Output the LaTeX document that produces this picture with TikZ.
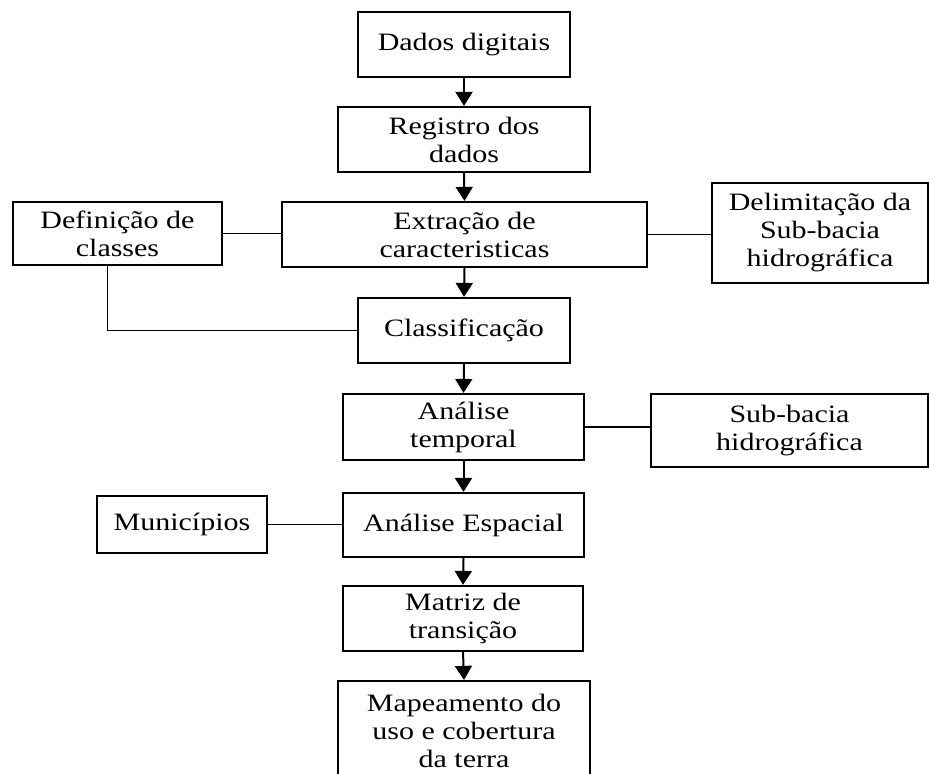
\documentclass[tikz,border=0pt]{standalone}
\usepackage{fontspec}
\setmainfont{Liberation Serif}[FakeStretch=1.2]
\usetikzlibrary{arrows.meta}
\begin{document}
\begin{tikzpicture}[x=1pt,y=-1pt,
  box/.style={draw=black,line width=2.2pt,inner sep=0pt,align=center,
    font=\fontsize{25}{28}\selectfont,text=black},
  link/.style={line width=1.7pt},
  flow/.style={line width=2pt,-{Triangle[width=17pt,length=14pt]}}]
\useasboundingbox (0,0) rectangle (930,774);
\node[box,minimum width=212pt,minimum height=65pt] (dados) at (464,44.5) {Dados digitais};
\node[box,minimum width=252pt,minimum height=65pt] (reg) at (464,139.5) {Registro dos\\dados};
\node[box,minimum width=365pt,minimum height=65pt] (ext) at (464.5,234.5) {Extração de\\caracteristicas};
\node[box,minimum width=209pt,minimum height=63pt] (def) at (117.5,233.5) {Definição de\\classes};
\node[box,minimum width=216pt,minimum height=100pt] (del) at (820,233) {Delimitação da\\Sub-bacia\\hidrográfica};
\node[box,minimum width=212pt,minimum height=65pt] (cls) at (464,330.5) {Classificação};
\node[box,minimum width=241pt,minimum height=66pt] (tmp) at (463.5,427) {Análise\\temporal};
\node[box,minimum width=277pt,minimum height=73pt] (sub) at (789.5,430.5) {Sub-bacia\\hidrográfica};
\node[box,minimum width=241pt,minimum height=64pt] (esp) at (463.5,525) {Análise Espacial};
\node[box,minimum width=170pt,minimum height=57pt] (mun) at (182,524.5) {Municípios};
\node[box,minimum width=240pt,minimum height=65pt] (mat) at (463,618.5) {Matriz de\\transição};
\node[box,minimum width=252pt,minimum height=100pt] (map) at (464,731) {Mapeamento do\\uso e cobertura\\da terra};
\draw[flow] (dados.south) -- (reg.north);
\draw[flow] (reg.south) -- (ext.north);
\draw[flow] (ext.south) -- (cls.north);
\draw[flow] (cls.south) -- (tmp.north);
\draw[flow] (tmp.south) -- (esp.north);
\draw[flow] (esp.south) -- (mat.north);
\draw[flow] (mat.south) -- (map.north);
\draw[link] (def.east) -- (def.east -| ext.west);
\draw[link] (ext.east) -- (ext.east -| del.west);
\draw[link] ([xshift=-10pt]def.south) |- (cls.west);
\draw[link] (tmp.east) -- (tmp.east -| sub.west);
\draw[link] (mun.east) -- (mun.east -| esp.west);
\end{tikzpicture}
\end{document}
